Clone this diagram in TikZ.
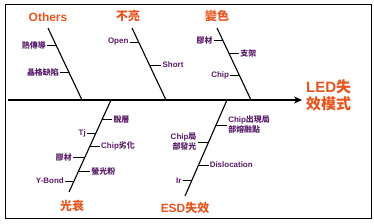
\documentclass[tikz,border=0pt]{standalone}
\usepackage{fontspec}
\setmainfont{Liberation Sans}
\newfontfamily\cjk{Noto Sans CJK TC}
\usetikzlibrary{arrows.meta,positioning,calc}
\definecolor{catorange}{RGB}{232,84,30}
\definecolor{causepurple}{RGB}{88,28,104}

\begin{document}
\begin{tikzpicture}[
  x=1bp, y=-1bp,
  node distance=9bp,
  cause/.style={font=\bfseries\fontsize{8}{10}\selectfont, text=causepurple, inner sep=1bp},
  category/.style={font=\bfseries\fontsize{12}{13}\selectfont, text=catorange, inner sep=1bp},
  effect/.style={font=\bfseries\fontsize{15}{17}\selectfont, text=catorange, align=left, inner sep=0pt},
  bone/.style={line width=1.1pt, draw=black},
  tick/.style={line width=0.9pt, draw=black},
  spine/.style={line width=1.4pt, -{Stealth[length=8bp,width=7bp]}}
]
\useasboundingbox (0,0) rectangle (374,224);
\draw[line width=0.8pt] (5,4) rectangle (371,218);
% Spine and bones
\coordinate (tail) at (8,100);
\coordinate (tip)  at (302,100);
\coordinate (othT)  at (48,28);  \coordinate (othB)  at (82,100);
\coordinate (darkT) at (132,28); \coordinate (darkB) at (166,100);
\coordinate (colT)  at (217,28); \coordinate (colB)  at (251,100);
\coordinate (decT)  at (111,100); \coordinate (decB) at (69,192);
\coordinate (esdT)  at (227,100); \coordinate (esdB) at (185,196);
\draw[spine] (tail) -- (tip);
\draw[bone] (othT) -- (othB);
\draw[bone] (darkT) -- (darkB);
\draw[bone] (colT) -- (colB);
\draw[bone] (decT) -- (decB);
\draw[bone] (esdT) -- (esdB);
% Effect
\node[effect, right=4bp of tip, yshift=5bp] (led) {LED{\cjk 失}\\{\cjk 效模式}};
% Categories
\node[category, above=5bp of othT] (others) {Others};
\node[category, above=5bp of darkT, xshift=-4bp] (dark) {\cjk 不亮};
\node[category, above=5bp of colT] (color) {\cjk 變色};
\node[category, below=7bp of decB, xshift=3bp] (decay) {\cjk 光衰};
\node[category, below=5bp of esdB] (esd) {ESD{\cjk 失效}};
% Others causes
\coordinate (o1) at ($(othT)!0.236!(othB)$);
\coordinate (o2) at ($(othT)!0.62!(othB)$);
\node[cause, left=of o1] (heat) {\cjk 熱傳導};
\node[cause, left=of o2] (lattice) {\cjk 晶格缺陷};
\draw[tick] (heat.east) -- (o1);
\draw[tick] (lattice.east) -- (o2);
% 不亮 causes
\coordinate (d1) at ($(darkT)!0.194!(darkB)$);
\coordinate (d2) at ($(darkT)!0.514!(darkB)$);
\node[cause, left=of d1] (open) {Open};
\node[cause, right=12bp of d2] (short) {Short};
\draw[tick] (open.east) -- (d1);
\draw[tick] (short.west) -- (d2);
% 變色 causes
\coordinate (c1) at ($(colT)!0.167!(colB)$);
\coordinate (c2) at ($(colT)!0.36!(colB)$);
\coordinate (c3) at ($(colT)!0.653!(colB)$);
\node[cause, left=of c1] (glue) {\cjk 膠材};
\node[cause, right=10bp of c2] (frame) {\cjk 支架};
\node[cause, left=of c3] (chip) {Chip};
\draw[tick] (glue.east) -- (c1);
\draw[tick] (frame.west) -- (c2);
\draw[tick] (chip.east) -- (c3);
% 光衰 causes
\coordinate (l1) at ($(decT)!0.207!(decB)$);
\coordinate (l2) at ($(decT)!0.359!(decB)$);
\coordinate (l3) at ($(decT)!0.5!(decB)$);
\coordinate (l4) at ($(decT)!0.62!(decB)$);
\coordinate (l5) at ($(decT)!0.78!(decB)$);
\coordinate (l6) at ($(decT)!0.88!(decB)$);
\node[cause, right=10bp of l1] (delam) {\cjk 脫層};
\node[cause, left=of l2] (tj) {Tj};
\node[cause, right=10bp of l3] (chipdeg) {Chip{\cjk 劣化}};
\node[cause, left=12bp of l4] (glue2) {\cjk 膠材};
\node[cause, right=12bp of l5] (phosphor) {\cjk 螢光粉};
\node[cause, left=of l6] (ybond) {Y-Bond};
\draw[tick] (delam.west) -- (l1);
\draw[tick] (tj.east) -- (l2);
\draw[tick] (chipdeg.west) -- (l3);
\draw[tick] (glue2.east) -- (l4);
\draw[tick] (phosphor.west) -- (l5);
\draw[tick] (ybond.east) -- (l6);
% ESD causes
\coordinate (e1) at ($(esdT)!0.26!(esdB)$);
\coordinate (e2) at ($(esdT)!0.4375!(esdB)$);
\coordinate (e3) at ($(esdT)!0.677!(esdB)$);
\coordinate (e4) at ($(esdT)!0.84!(esdB)$);
\node[cause, align=left, right=11bp of e1] (melt) {Chip{\cjk 出現局}\\{\cjk 部熔融點}};
\node[cause, align=right, left=11bp of e2] (glow) {Chip{\cjk 局}\\{\cjk 部發光}};
\node[cause, right=10bp of e3] (disloc) {Dislocation};
\node[cause, left=of e4] (ir) {Ir};
\draw[tick] (melt.west) -- (e1);
\draw[tick] (glow.east) -- (e2);
\draw[tick] (disloc.west) -- (e3);
\draw[tick] (ir.east) -- (e4);
\end{tikzpicture}
\end{document}
